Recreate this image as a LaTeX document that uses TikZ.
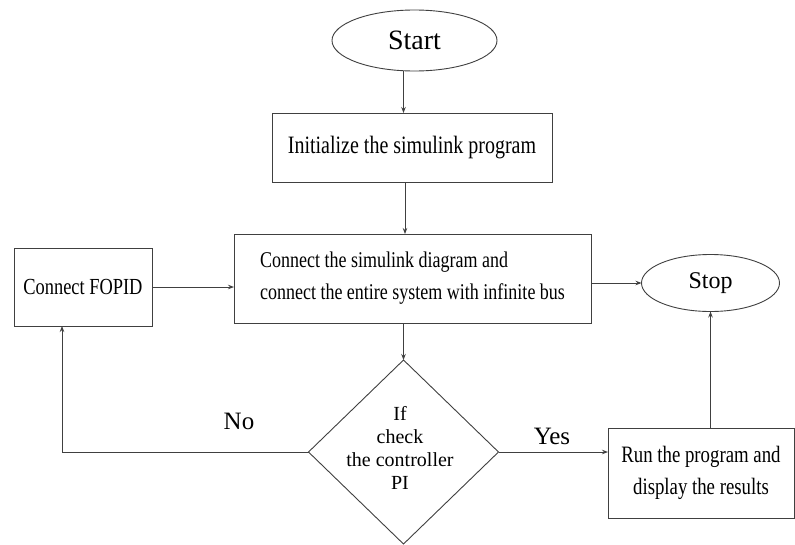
\documentclass[tikz,border=0pt]{standalone}
\usepackage{fontspec}
\setmainfont{Liberation Serif}
\newfontfamily\cond[FakeStretch=0.8]{Liberation Serif}
\usetikzlibrary{shapes.geometric,arrows.meta,calc}
\begin{document}
\begin{tikzpicture}[x=1pt,y=-1pt,
  line width=0.9pt,
  every node/.style={inner sep=0pt,outer sep=0pt},
  box/.style={draw=black!75,rectangle,align=center,font=\cond\fontsize{23}{32}\selectfont},
  oval/.style={draw=black!75,ellipse},
  conn/.style={draw=black!75,-{Stealth[length=6pt,width=4.5pt]}},
  lbl/.style={font=\fontsize{25}{28}\selectfont}
]
\useasboundingbox[fill=white] (0,0) rectangle (795,544);
% nodes
\node[oval,minimum width=165,minimum height=61,font=\fontsize{28}{30}\selectfont] (start) at (414.5,40.5) {Start};
\node[box,minimum width=280,minimum height=69,font=\cond\fontsize{25}{28}\selectfont] (init) at (412,147.5) {Initialize the simulink program};
\node[box,minimum width=357,minimum height=89,align=left,font=\cond\fontsize{22.5}{32}\selectfont] (cnct) at (412.5,278.5) {Connect the simulink diagram and\\connect the entire system with infinite bus};
\node[box,minimum width=138,minimum height=78] (fopid) at (83,287) {Connect FOPID};
\node[oval,minimum width=138,minimum height=57,font=\fontsize{24}{26}\selectfont] (stop) at (710.5,283) {Stop};
\node[draw=black!75,diamond,minimum width=190,minimum height=184] (dec) at (403.5,452) {};
\node[align=center,font=\fontsize{20}{23}\selectfont] (dectext) at (400,448) {If\\check\\the controller\\PI};
\node[box,minimum width=186,minimum height=90,font=\cond\fontsize{23.5}{32}\selectfont] (run) at (701,473) {Run the program and\\display the results};
\node[lbl] (no) at (239,421) {No};
\node[lbl] (yes) at (552,436) {Yes};
\coordinate (lcorner) at (62,452);
% connectors
\draw[conn] ([xshift=-11pt]start.south) -- ([xshift=-11pt]start.south |- init.north);
\draw[conn] ([xshift=-7pt]init.south) -- ([xshift=-7pt]init.south |- cnct.north);
\draw[conn] (cnct.south -| dec.north) -- (dec.north);
\draw[conn] (fopid.east) -- (fopid.east -| cnct.west);
\draw[conn] (cnct.east |- stop.west) -- (stop.west);
\draw[conn] (dec.west) -- (lcorner) -- (lcorner |- fopid.south);
\draw[conn] (dec.east) -- (dec.east -| run.west);
\draw[conn] (run.north -| stop.south) -- (stop.south);
\end{tikzpicture}
\end{document}
